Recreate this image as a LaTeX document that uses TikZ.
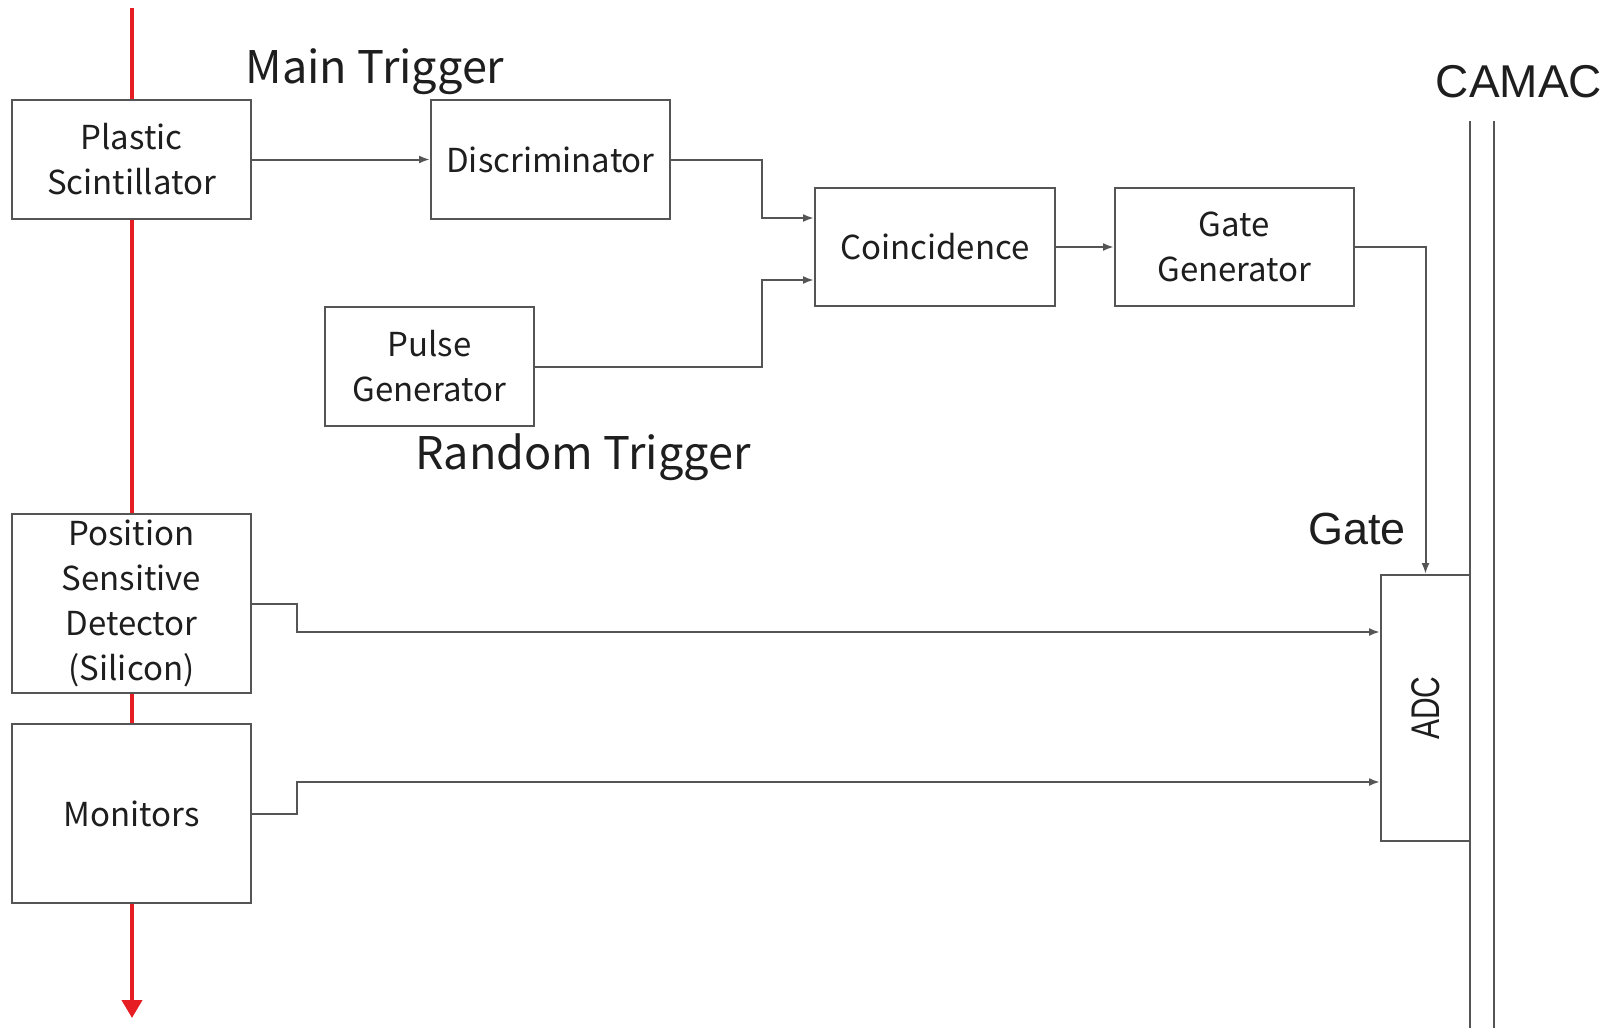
\documentclass[tikz,border=0pt]{standalone}
\usepackage{fontspec}
\usepackage{xcolor}
\usetikzlibrary{arrows.meta,positioning}
\setmainfont{Noto Sans CJK JP}
\newfontfamily\labelfont{Liberation Sans}
\newfontfamily\adcfont[FakeStretch=0.75]{Liberation Sans}
\definecolor{WireGray}{RGB}{85,85,85}
\definecolor{BeamRed}{RGB}{230,30,35}
\definecolor{InkGray}{RGB}{30,30,30}

\begin{document}
\begin{tikzpicture}[
x=1pt,y=-1pt,
node distance=29pt and 58pt,
box/.style={
draw=WireGray,
line width=2pt,
fill=white,
text=InkGray,
minimum width=239pt,
minimum height=119pt,
align=center,
inner sep=0pt,
font=\fontsize{33}{45}\selectfont
},
tall/.style={box,minimum height=179pt},
sig/.style={-{Latex[length=11pt,width=8pt]},draw=WireGray,line width=2pt},
beam/.style={-{Triangle[length=18pt,width=20pt]},draw=BeamRed,line width=4pt},
bus/.style={draw=WireGray,line width=2pt},
title/.style={text=InkGray,font=\fontsize{45}{50}\selectfont}
]
\useasboundingbox (0,0) rectangle (1612,1028);

% beam line
\draw[beam] (132,8) -- (132,1018);

\node[box] (plastic) at (131.5,159.5) {Plastic\\Scintillator};
\node[box,right=178pt of plastic] (disc) {Discriminator};
\node[box,minimum width=240pt,minimum height=118pt] (coinc) at (935,247) {Coincidence};
\node[box,minimum height=118pt,right=of coinc] (gategen) {Gate\\Generator};
\node[box,minimum width=209pt] (pulse) at (429.5,366.5) {Pulse\\Generator};
\node[tall] (psd) at (131.5,603.5) {Position\\Sensitive\\Detector\\(Silicon)};
\node[tall,below=of psd] (monitors) {Monitors};
\node[box,minimum width=89pt,minimum height=266pt] (adc) at (1425.5,708)
  {\adcfont\fontsize{40}{40}\selectfont\rotatebox{90}{ADC}};

\node[title] (maintrig) at (375,72) {Main Trigger};
\node[title] (randtrig) at (583,457) {Random Trigger};
\node[text=InkGray,font=\labelfont\fontsize{45}{45}\selectfont] (gatelbl) at (1357,529) {Gate};
\node[text=InkGray,font=\labelfont\fontsize{46}{46}\selectfont] (camac) at (1519,82) {CAMAC};

% CAMAC crate
\draw[bus] (1470,121) -- (1470,1028);
\draw[bus] (1494,121) -- (1494,1028);

% signals
\draw[sig] (plastic) -- (disc);
\draw[sig] (disc.east) -- ++(91,0) |- ([yshift=29pt]coinc.west);
\draw[sig] (pulse.east) -- ++(227,0) |- ([yshift=-33pt]coinc.west);
\draw[sig] (coinc) -- (gategen);
\draw[sig] (gategen.east) -| (adc.north);
\draw[sig] (psd.east) -- ++(45,0) |- ([yshift=76pt]adc.west);
\draw[sig] (monitors.east) -- ++(45,0) |- ([yshift=-74pt]adc.west);
\end{tikzpicture}
\end{document}
